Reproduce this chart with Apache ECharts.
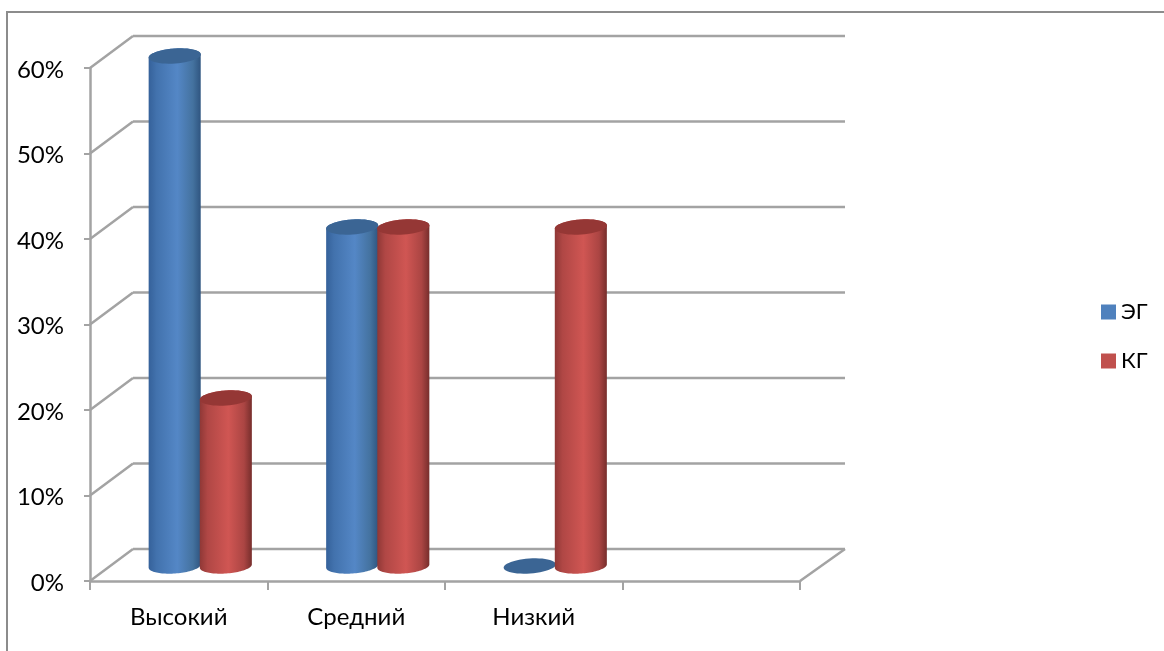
<!DOCTYPE html>
<html><head><meta charset="utf-8">
<style>html,body{margin:0;padding:0;background:#fff}
#c{position:absolute;left:0;top:0;width:1164px;height:651px}
#f{position:absolute;left:6px;top:11px;width:1158px;height:640px;border-left:2px solid #8c8c8c;border-top:2px solid #8c8c8c;box-sizing:border-box}</style>
<script src="https://cdn.jsdelivr.net/npm/echarts@6/dist/echarts.min.js"></script>
</head><body><div id="f"></div><div id="c"></div>
<script>
const categories = ['Высокий', 'Средний', 'Низкий', ''];
const egValues = [60, 40, 0, null];
const kgValues = [20, 40, 40, null];
const gridTicks = [0, 10, 20, 30, 40, 50, 60];

const FONT = 'Lato, "Noto Sans", sans-serif';
const GRAY = '#a3a3a3';
const DEPTH_X = 43, DEPTH_Y = -32;
const G = echarts.graphic.LinearGradient;
const blueFill = new G(0,0,1,0,[{offset:0,color:'#35619a'},{offset:.15,color:'#4272ad'},{offset:.55,color:'#5487c6'},{offset:.85,color:'#44729f'},{offset:1,color:'#2f5580'}]);
const redFill = new G(0,0,1,0,[{offset:0,color:'#8f3836'},{offset:.15,color:'#b04745'},{offset:.55,color:'#d05653'},{offset:.85,color:'#ab4543'},{offset:1,color:'#772e2c'}]);

function ellipsePts(cx, cy, rx, ry, from, to) {
  const pts = [], tilt = -0.07, n = 48;
  for (let i = 0; i <= n; i++) {
    const a = from + (to - from) * i / n;
    const x = rx * Math.cos(a), y = ry * Math.sin(a);
    pts.push([cx + x * Math.cos(tilt) - y * Math.sin(tilt), cy + x * Math.sin(tilt) + y * Math.cos(tilt)]);
  }
  return pts;
}

function cylinder(side, fill, topColor) {
  return function (params, api) {
    const v = api.value(1);
    if (v == null || isNaN(v)) return;
    const p = api.coord([api.value(0), v]);
    const zero = api.coord([api.value(0), 0]);
    const band = api.size([1, 0])[0];
    const rx = band * 0.147, ry = 7.5;
    const cx = p[0] + DEPTH_X / 2 + side * rx * 0.98;
    const baseY = zero[1] - 15;
    const topY = v === 0 ? baseY : p[1] - 12;
    const children = [];
    if (v > 0) {
      const body = ellipsePts(cx, topY, rx, ry, Math.PI, 2 * Math.PI)
        .concat(ellipsePts(cx, baseY, rx, ry, 0, Math.PI));
      children.push({ type: 'polygon', shape: { points: body }, style: { fill: fill } });
    }
    children.push({ type: 'polygon', shape: { points: ellipsePts(cx, topY, rx, ry, 0, 2 * Math.PI) }, style: { fill: topColor } });
    return { type: 'group', children };
  };
}

function walls(params, api) {
  const cs = params.coordSys, v = api.value(0);
  const y = api.coord([0, v])[1];
  const l = cs.x, r = cs.x + cs.width;
  const ln = (x1, y1, x2, y2) => ({ type: 'line', shape: { x1, y1, x2, y2 }, style: { stroke: GRAY, lineWidth: 2.5 } });
  const kids = [ln(l, y, l + DEPTH_X, y + DEPTH_Y), ln(l + DEPTH_X, y + DEPTH_Y, r + DEPTH_X + 2, y + DEPTH_Y)];
  if (v === 0) kids.push(ln(r, y, r + DEPTH_X + 2, y + DEPTH_Y));
  return { type: 'group', children: kids };
}

const chart = echarts.init(document.getElementById('c'), null, { renderer: 'canvas' });
chart.setOption({
  animation: false,
  backgroundColor: 'transparent',
  grid: { left: 90, right: 364, top: 68, bottom: 70 },
  legend: {
    orient: 'vertical', left: 1096, top: 296, itemWidth: 15, itemHeight: 15, itemGap: 27, icon: 'rect',
    data: ['ЭГ', 'КГ'], textStyle: { fontFamily: FONT, fontSize: 22, color: '#000' }
  },
  xAxis: {
    type: 'category', data: categories,
    axisLine: { lineStyle: { color: GRAY, width: 2.5 } },
    axisTick: { show: true, length: 9, lineStyle: { color: GRAY, width: 2 } },
    axisLabel: { fontFamily: FONT, fontSize: 24, color: '#000', margin: 24 },
    splitLine: { show: false }
  },
  yAxis: {
    type: 'value', min: 0, max: 60, interval: 10,
    axisLine: { show: true, lineStyle: { color: GRAY, width: 2.5 } },
    axisTick: { show: true, length: 6, lineStyle: { color: GRAY, width: 2 } },
    axisLabel: { formatter: '{v|{value}%}', color: '#000', margin: 26,
      rich: { v: { fontFamily: FONT, fontSize: 24, color: '#000', padding: [4, 0, 0, 0] } } },
    splitLine: { show: false }
  },
  series: [
    { type: 'custom', silent: true, z: 1, renderItem: walls, data: gridTicks.map(v => [v]), encode: { y: 0 }, legendHoverLink: false },
    { name: 'ЭГ', type: 'custom', z: 2, itemStyle: { color: '#4f81bd' }, renderItem: cylinder(-1, blueFill, '#3b6594'),
      data: categories.map((c, i) => [i, egValues[i]]), encode: { x: 0, y: 1 } },
    { name: 'КГ', type: 'custom', z: 3, itemStyle: { color: '#c0504d' }, renderItem: cylinder(1, redFill, '#953735'),
      data: categories.map((c, i) => [i, kgValues[i]]), encode: { x: 0, y: 1 } }
  ]
});
</script></body></html>
